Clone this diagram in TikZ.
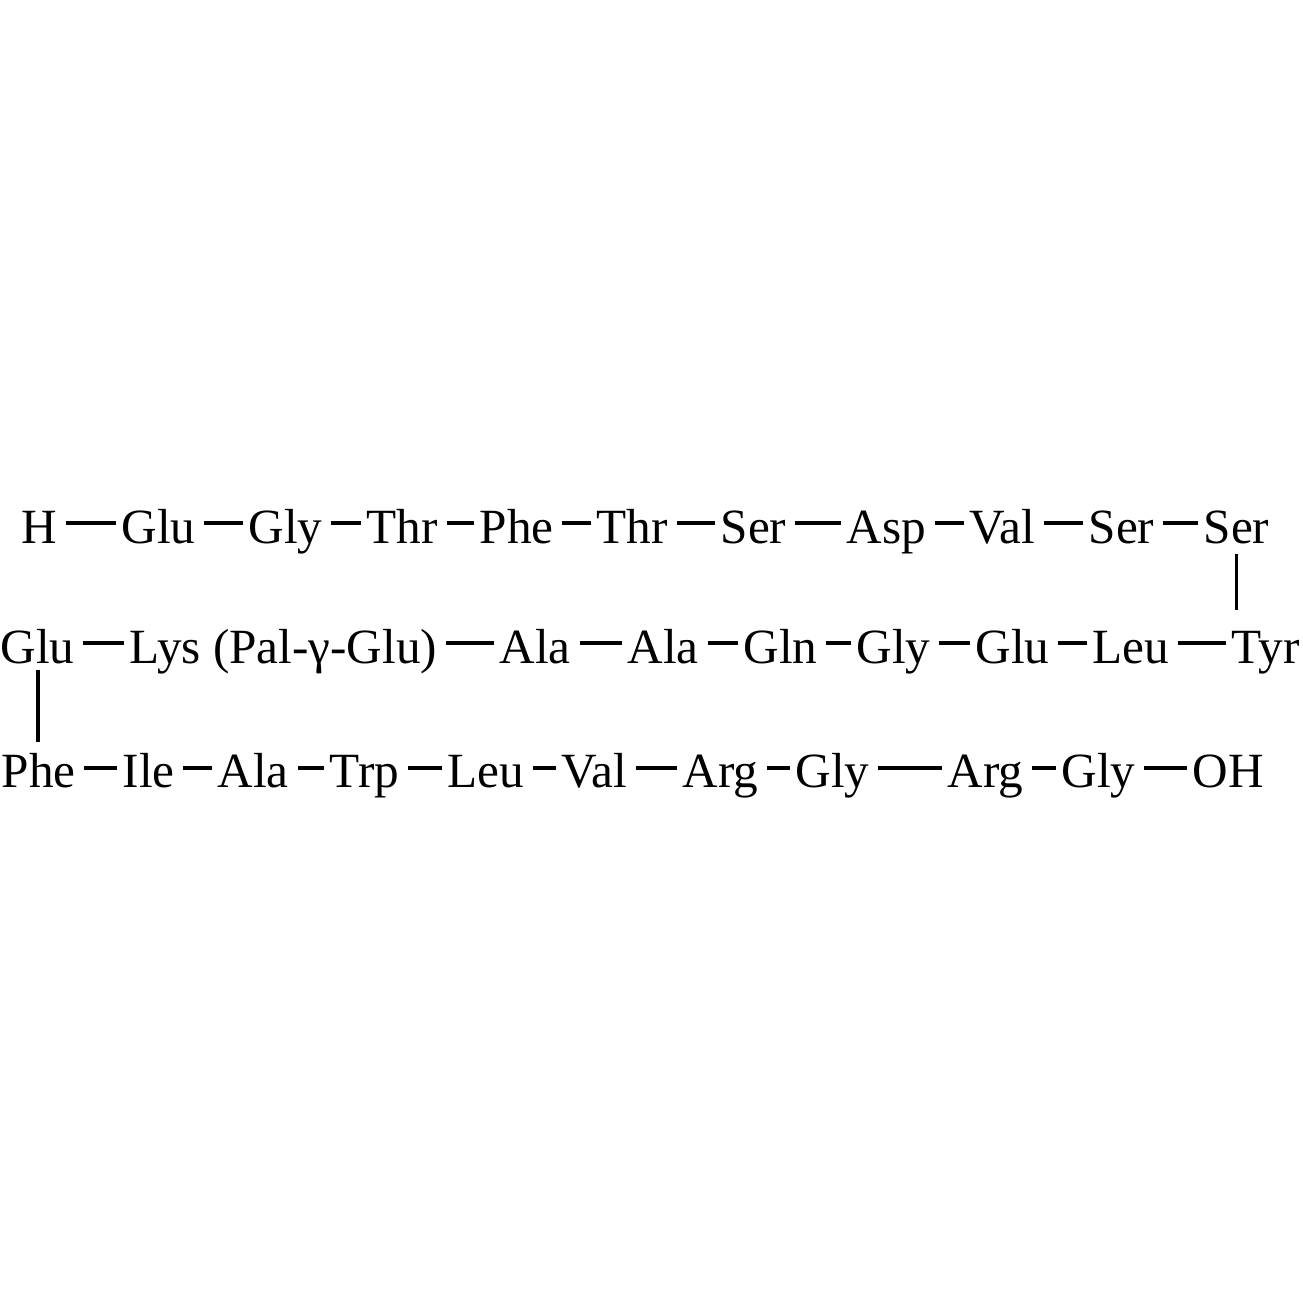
\documentclass[tikz,border=0pt]{standalone}
\usepackage{fontspec}
\setmainfont{Liberation Serif}
\begin{document}
\begin{tikzpicture}[x=0.01cm,y=-0.01cm,
  res/.style={anchor=base west,inner sep=0,font=\fontsize{14}{17}\selectfont},
  bond/.style={line width=1.1pt,shorten <=0.08cm,shorten >=0.05cm}]
\useasboundingbox (0,0) rectangle (1303,1303);
\node[res] (h) at (21,543) {H};
\node[res] (p1) at (121,543) {Glu};
\node[res] (p2) at (248,543) {Gly};
\node[res] (p3) at (366,543) {Thr};
\node[res] (p4) at (479,543) {Phe};
\node[res] (p5) at (596,543) {Thr};
\node[res] (p6) at (720,543) {Ser};
\node[res] (p7) at (846,543) {Asp};
\node[res] (p8) at (969,543) {Val};
\node[res] (p9) at (1088,543) {Ser};
\node[res] (p10) at (1203,543) {Ser};
\node[res] (p11) at (1231,663) {Tyr};
\node[res] (p12) at (1092,663) {Leu};
\node[res] (p13) at (975,663) {Glu};
\node[res] (p14) at (856,663) {Gly};
\node[res] (p15) at (743,663) {Gln};
\node[res] (p16) at (627,663) {Ala};
\node[res] (p17) at (499,663) {Ala};
\node[res] (p18) at (129,663) {Lys (Pal-γ-Glu)};
\node[res] (p19) at (0,663) {Glu};
\node[res] (p20) at (1,787) {Phe};
\node[res] (p21) at (122,787) {Ile};
\node[res] (p22) at (217,787) {Ala};
\node[res] (p23) at (329,787) {Trp};
\node[res] (p24) at (447,787) {Leu};
\node[res] (p25) at (561,787) {Val};
\node[res] (p26) at (682,787) {Arg};
\node[res] (p27) at (795,787) {Gly};
\node[res] (p28) at (947,787) {Arg};
\node[res] (p29) at (1061,787) {Gly};
\node[res] (oh) at (1192,787) {OH};
\draw[bond] ([yshift=0.2cm]h.base east) -- ([yshift=0.2cm]p1.base west);
\draw[bond] ([yshift=0.2cm]p1.base east) -- ([yshift=0.2cm]p2.base west);
\draw[bond] ([yshift=0.2cm]p2.base east) -- ([yshift=0.2cm]p3.base west);
\draw[bond] ([yshift=0.2cm]p3.base east) -- ([yshift=0.2cm]p4.base west);
\draw[bond] ([yshift=0.2cm]p4.base east) -- ([yshift=0.2cm]p5.base west);
\draw[bond] ([yshift=0.2cm]p5.base east) -- ([yshift=0.2cm]p6.base west);
\draw[bond] ([yshift=0.2cm]p6.base east) -- ([yshift=0.2cm]p7.base west);
\draw[bond] ([yshift=0.2cm]p7.base east) -- ([yshift=0.2cm]p8.base west);
\draw[bond] ([yshift=0.2cm]p8.base east) -- ([yshift=0.2cm]p9.base west);
\draw[bond] ([yshift=0.2cm]p9.base east) -- ([yshift=0.2cm]p10.base west);
\draw[bond,shorten <=0.1cm,shorten >=0.2cm] (p10.south) -- (p10.south |- p11.north);
\draw[bond] ([yshift=0.2cm]p12.base east) -- ([yshift=0.2cm]p11.base west);
\draw[bond] ([yshift=0.2cm]p13.base east) -- ([yshift=0.2cm]p12.base west);
\draw[bond] ([yshift=0.2cm]p14.base east) -- ([yshift=0.2cm]p13.base west);
\draw[bond] ([yshift=0.2cm]p15.base east) -- ([yshift=0.2cm]p14.base west);
\draw[bond] ([yshift=0.2cm]p16.base east) -- ([yshift=0.2cm]p15.base west);
\draw[bond] ([yshift=0.2cm]p17.base east) -- ([yshift=0.2cm]p16.base west);
\draw[bond] ([yshift=0.2cm]p18.base east) -- ([yshift=0.2cm]p17.base west);
\draw[bond] ([yshift=0.2cm]p19.base east) -- ([yshift=0.2cm]p18.base west);
\draw[bond,shorten <=0.06cm,shorten >=0.1cm] (p19.south) -- (p19.south |- p20.north);
\draw[bond] ([yshift=0.19cm]p20.base east) -- ([yshift=0.19cm]p21.base west);
\draw[bond] ([yshift=0.19cm]p21.base east) -- ([yshift=0.19cm]p22.base west);
\draw[bond] ([yshift=0.19cm]p22.base east) -- ([yshift=0.19cm]p23.base west);
\draw[bond] ([yshift=0.19cm]p23.base east) -- ([yshift=0.19cm]p24.base west);
\draw[bond] ([yshift=0.19cm]p24.base east) -- ([yshift=0.19cm]p25.base west);
\draw[bond] ([yshift=0.19cm]p25.base east) -- ([yshift=0.19cm]p26.base west);
\draw[bond] ([yshift=0.19cm]p26.base east) -- ([yshift=0.19cm]p27.base west);
\draw[bond] ([yshift=0.19cm]p27.base east) -- ([yshift=0.19cm]p28.base west);
\draw[bond] ([yshift=0.19cm]p28.base east) -- ([yshift=0.19cm]p29.base west);
\draw[bond] ([yshift=0.19cm]p29.base east) -- ([yshift=0.19cm]oh.base west);
\end{tikzpicture}
\end{document}
